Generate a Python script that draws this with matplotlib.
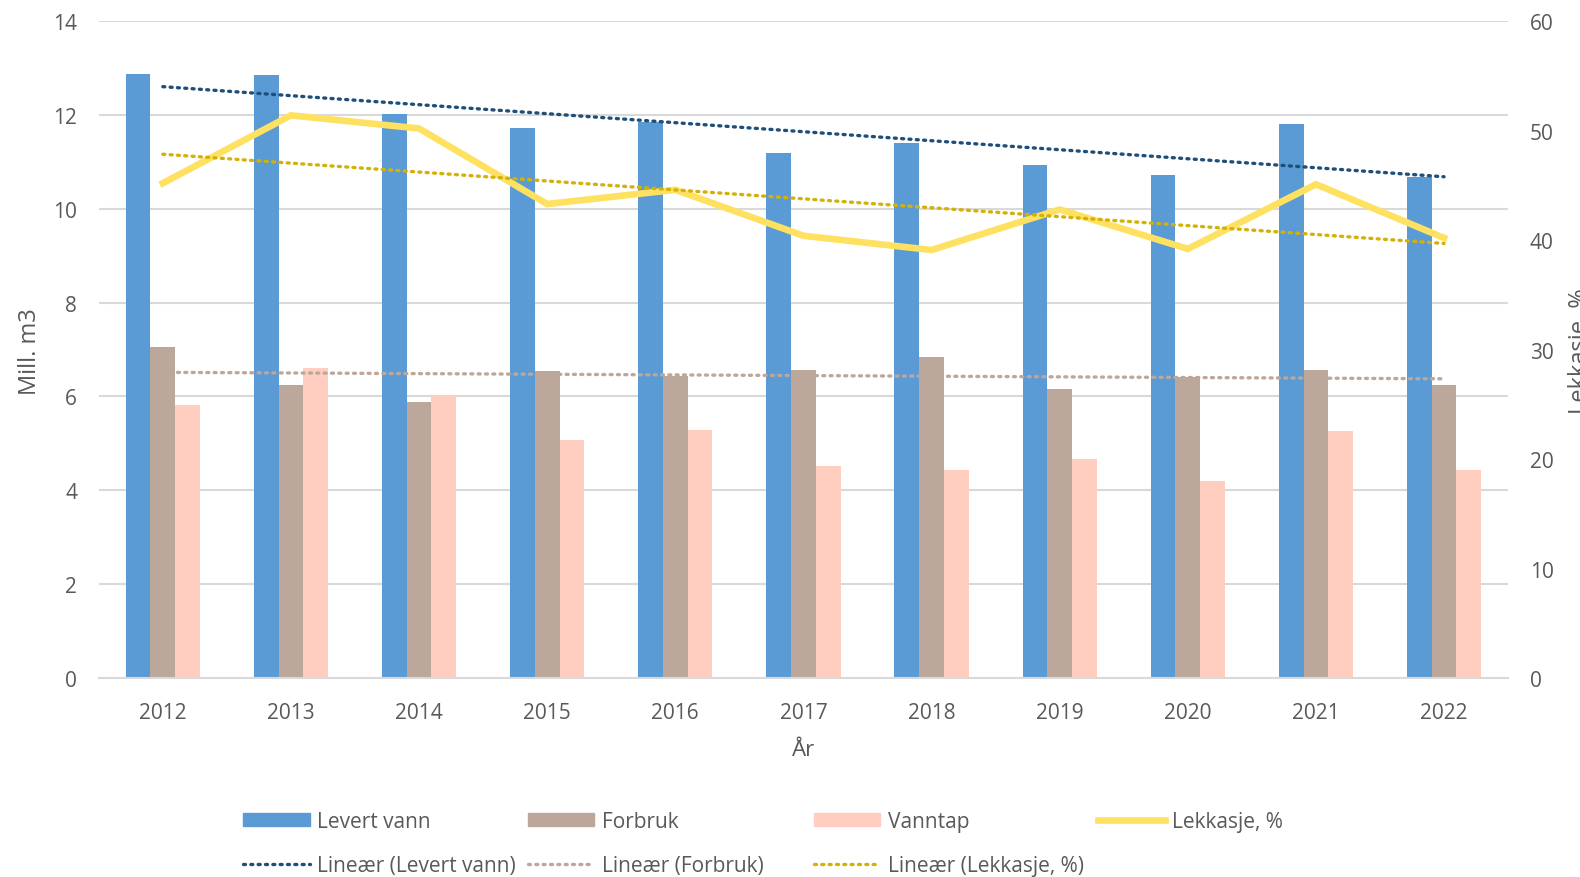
import matplotlib
matplotlib.use('Agg')
import matplotlib.pyplot as plt
from matplotlib.patches import Patch
from matplotlib.lines import Line2D
import numpy as np

plt.rcParams['font.family'] = ['Open Sans', 'DejaVu Sans']

years = ['2012', '2013', '2014', '2015', '2016', '2017', '2018', '2019', '2020', '2021', '2022']
levert = [12.88, 12.85, 12.03, 11.73, 11.86, 11.19, 11.40, 10.94, 10.72, 11.81, 10.68]
forbruk = [7.05, 6.24, 5.88, 6.54, 6.43, 6.56, 6.84, 6.15, 6.42, 6.56, 6.24]
vanntap = [5.82, 6.60, 6.03, 5.07, 5.29, 4.52, 4.44, 4.67, 4.19, 5.27, 4.43]
lekkasje = [45.2, 51.4, 50.2, 43.3, 44.6, 40.4, 39.1, 42.8, 39.2, 45.1, 40.2]

c_levert = '#5B9BD5'
c_forbruk = '#BCA89A'
c_vanntap = '#FFCEC1'
c_lekk = '#FFE161'
c_tr_levert = '#1F4E79'
c_tr_forbruk = '#BCA89A'
c_tr_lekk = '#D4B106'
txt = '#595959'
grid = '#D9D9D9'

x = np.arange(len(years))
w = 0.193
dots = (0, (0.6, 1.6))

fig = plt.figure(figsize=(15.8, 8.78), dpi=100)
ax = fig.add_axes([0.0625, 0.2267, 0.892, 0.748])
ax2 = ax.twinx()

ax.bar(x - w, levert, w, color=c_levert, zorder=2)
ax.bar(x, forbruk, w, color=c_forbruk, zorder=2)
ax.bar(x + w, vanntap, w, color=c_vanntap, zorder=2)

# lineære trendlinjer
def trend(vals):
    k, m = np.polyfit(x, vals, 1)
    return k * x + m

ax.plot(x, trend(levert), color=c_tr_levert, lw=2.4, ls=dots,
        dash_capstyle='round', zorder=3)
ax.plot(x, trend(forbruk), color=c_tr_forbruk, lw=2.4, ls=dots,
        dash_capstyle='round', zorder=3)

ax2.plot(x, lekkasje, color=c_lekk, lw=4.8, solid_joinstyle='miter', zorder=4)
ax2.plot(x, trend(lekkasje), color=c_tr_lekk, lw=2.4, ls=dots,
         dash_capstyle='round', zorder=5)

ax.set_xlim(-0.5, len(years) - 0.5)
ax.set_ylim(0, 14)
ax.set_yticks(range(0, 15, 2))
ax2.set_ylim(0, 60)
ax2.set_yticks(range(0, 61, 10))
ax.set_xticks(x)
ax.set_xticklabels(years)

ax.grid(axis='y', color=grid, lw=1.5, zorder=0)
ax.set_axisbelow(True)
for a in (ax, ax2):
    for s in a.spines.values():
        s.set_visible(False)
    a.tick_params(length=0, colors=txt, labelsize=15)
ax.spines['bottom'].set_visible(True)
ax.spines['bottom'].set_color(grid)
ax.spines['bottom'].set_linewidth(1.5)
ax.tick_params(axis='y', pad=15.5)
ax.tick_params(axis='x', pad=17)
ax2.tick_params(axis='y', pad=15.5)

ax.set_xlabel('År', color=txt, fontsize=16, labelpad=12)
fig.text(0.019, 0.599, 'Mill. m3', rotation=90, ha='center', va='center',
         color=txt, fontsize=17)
fig.text(0.9925, 0.60, 'Lekkasje, %', rotation=90, ha='left', va='center',
         color=txt, fontsize=17)

# forklaring, fire kolonner med fast avstand
fs = 15
cols = [
    (0.154, [Patch(color=c_levert), Line2D([], [], color=c_tr_levert, lw=2.4, ls=dots, dash_capstyle='round')],
     ['Levert vann', 'Lineær (Levert vann)']),
    (0.334, [Patch(color=c_forbruk), Line2D([], [], color=c_tr_forbruk, lw=2.4, ls=dots, dash_capstyle='round')],
     ['Forbruk', 'Lineær (Forbruk)']),
    (0.515, [Patch(color=c_vanntap), Line2D([], [], color=c_tr_lekk, lw=2.4, ls=dots, dash_capstyle='round')],
     ['Vanntap', 'Lineær (Lekkasje, %)']),
    (0.695, [Line2D([], [], color=c_lekk, lw=4.8)], ['Lekkasje, %']),
]
for xpos, hs, ls in cols:
    leg = fig.legend(hs, ls, loc='upper left', bbox_to_anchor=(xpos, 0.075),
                     frameon=False, fontsize=fs, handlelength=3.2, handleheight=0.6,
                     handletextpad=0.35, labelspacing=1.1, borderaxespad=0, borderpad=0)
    for t in leg.get_texts():
        t.set_color(txt)

fig.savefig('out.png', dpi=100)
